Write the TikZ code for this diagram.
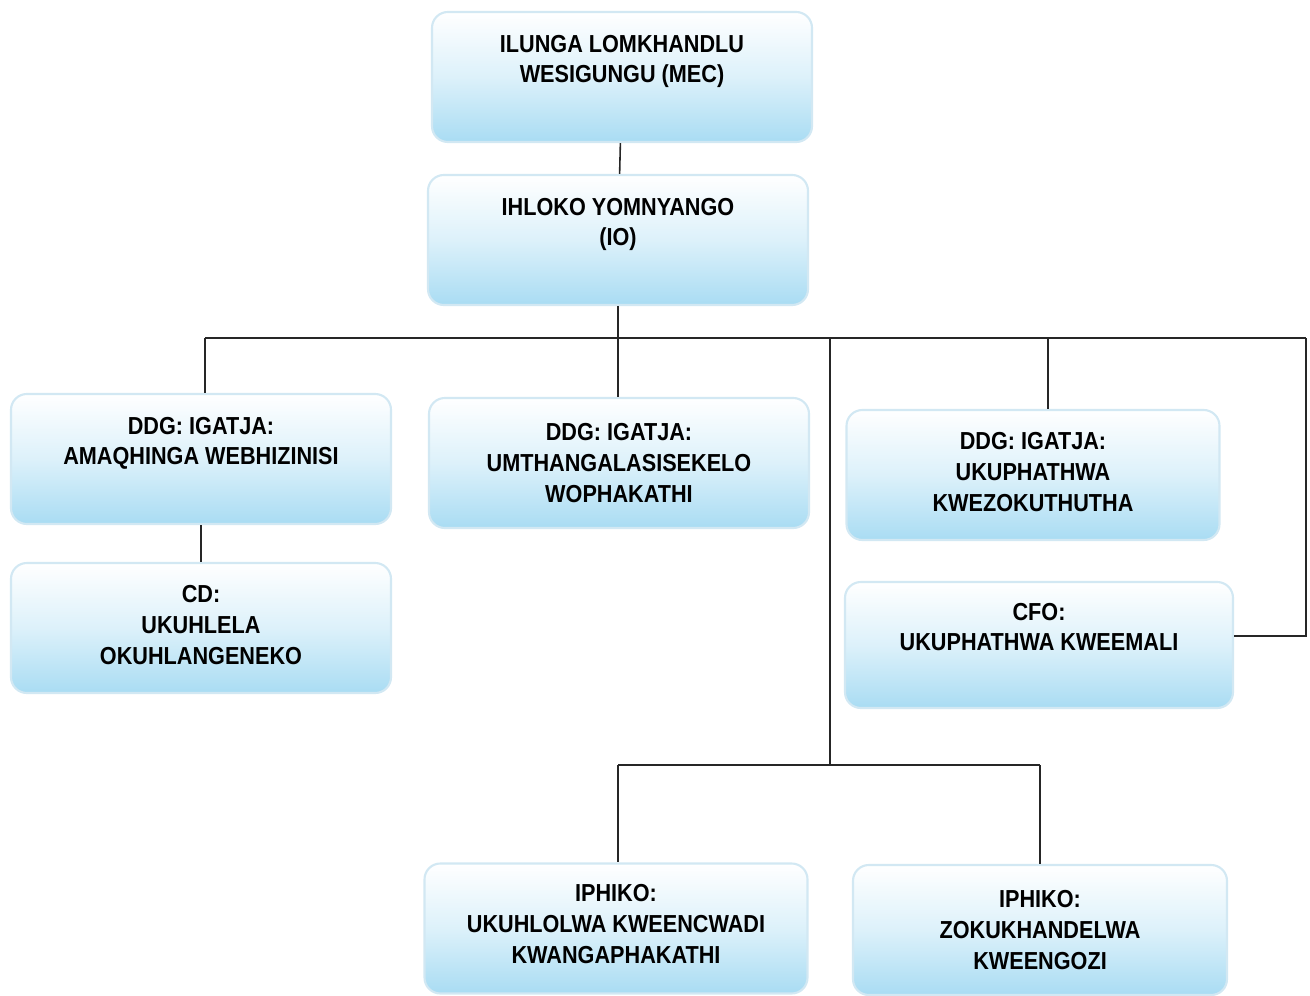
\documentclass[tikz,border=0pt]{standalone}
\usepackage{fontspec}
\setmainfont{Liberation Sans}[FakeStretch=0.88]
\usepackage{tikz}
\usetikzlibrary{calc}

\definecolor{boxblue}{HTML}{A9DCF3}
\definecolor{boxedge}{HTML}{D2E8F3}

\tikzset{
  unit/.style={rectangle, rounded corners=9pt, draw=boxedge, line width=1.2pt,
    top color=white, bottom color=boxblue, middle color=white!60!boxblue,
    minimum width=7.6cm, minimum height=2.6cm, align=center,
    font=\fontsize{14}{17.6}\selectfont\bfseries, inner sep=2pt},
  link/.style={draw=black!85, line width=0.9pt}
}

\begin{document}
\begin{tikzpicture}
            \useasboundingbox (0,0) rectangle (26.2,-19.92);
            \node[unit] (mec) at (12.44,-1.54) {ILUNGA LOMKHANDLU\\WESIGUNGU (MEC)\\[3pt]};
            \node[unit] (io) at (12.36,-4.80) {IHLOKO YOMNYANGO\\(IO)\\[3pt]};
            \node[unit] (ddgA) at (4.02,-9.18) {DDG: IGATJA:\\AMAQHINGA WEBHIZINISI\\[3pt]};
            \node[unit] (cd) at (4.02,-12.56) {CD:\\UKUHLELA\\OKUHLANGENEKO\\[-14pt]};
            \node[unit] (ddgB) at (12.38,-9.26) {DDG: IGATJA:\\UMTHANGALASISEKELO\\WOPHAKATHI};
            \node[unit, minimum width=7.46cm] (ddgC) at (20.66,-9.50) {DDG: IGATJA:\\UKUPHATHWA\\KWEZOKUTHUTHA\\[-14pt]};
            \node[unit, minimum width=7.76cm, minimum height=2.52cm] (cfo) at (20.78,-12.90) {CFO:\\UKUPHATHWA KWEEMALI\\[3pt]};
            \node[unit, minimum width=7.66cm] (audit) at (12.32,-18.57) {IPHIKO:\\UKUHLOLWA KWEENCWADI\\KWANGAPHAKATHI\\[-12pt]};
            \node[unit, minimum width=7.48cm] (risk) at (20.80,-18.60) {IPHIKO:\\ZOKUKHANDELWA\\KWEENGOZI};

            \coordinate (busL) at (4.10,-6.76);
            \coordinate (busR) at (26.12,-6.76);
            \coordinate (busC) at (20.96,-6.76);
            \coordinate (midL) at (12.36,-15.30);
            \coordinate (midR) at (20.80,-15.30);

            \path[link] (mec) -- (io);
            \path[link] (io.south) -- (io.south |- busL);
            \path[link] (busL) -- (busR);
            \path[link] (busL) -- (ddgA.north -| busL);
            \path[link] (ddgA) -- (cd);
            \path[link] (io.south |- busL) -- (ddgB.north -| io.south);
            \path[link] (busC) -- (ddgC.north -| busC);
            \path[link] (busR) |- ([yshift=0.18cm]cfo.east);
            \path[link] (16.60,-6.76) -- (16.60,-15.30);
            \path[link] (midL) -- (midR);
            \path[link] (midL) -- (audit.north -| midL);
            \path[link] (midR) -- (risk.north -| midR);
        \end{tikzpicture}
\end{document}
